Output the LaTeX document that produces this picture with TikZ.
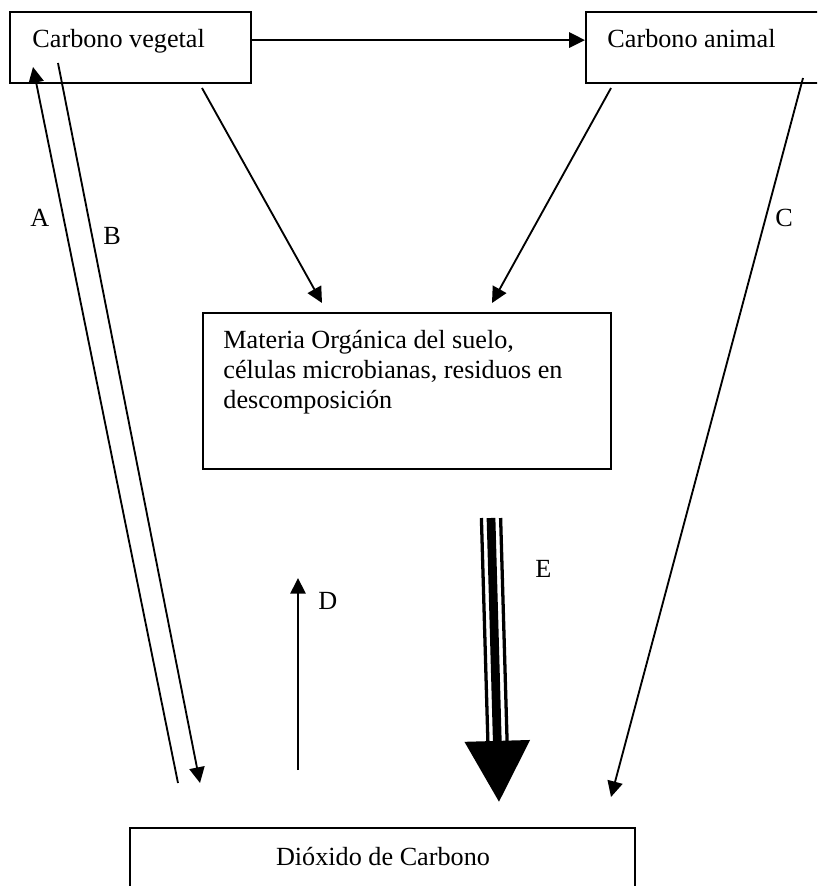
\documentclass[tikz,border=0pt]{standalone}
\usepackage{fontspec}
\setmainfont{Liberation Serif}
\usetikzlibrary{arrows.meta}

\begin{document}
\begin{tikzpicture}[
		x=0.0161cm, y=-0.0161cm,
		every node/.style={font=\fontsize{12}{13.8}\selectfont, inner sep=0pt},
		box/.style={draw, rectangle, line width=1pt},
		arrow/.style={-{Triangle[length=7.2pt,width=7pt]}, line width=0.85pt},
		lbl/.style={anchor=base west}
		]
		
		\useasboundingbox (0,0) rectangle (817,886);
		\clip (0,0) rectangle (817,886);
		
		\node[box, minimum width=3.88cm, minimum height=1.143cm] (veg) at (130.5,47.5) {};
		\node[box, minimum width=4.089cm, minimum height=1.143cm] (ani) at (713,47.5) {};
		\node[box, minimum width=6.569cm, minimum height=2.512cm] (mo) at (407,391) {};
		\node[box, minimum width=8.131cm, minimum height=1.159cm] (co2) at (382.5,864) {};
		
		\node[lbl] (vegtext) at (32,48) {Carbono vegetal};
		\node[lbl] (anitext) at (607,48) {Carbono animal};
		\node[anchor=north west, align=left] (motext) at (223,330) {Materia Orgánica del suelo,\\células microbianas, residuos en\\descomposición};
		\node[anchor=base] (co2text) at (383,865) {Dióxido de Carbono};
		
		\coordinate (vegA) at (33,67);
		\coordinate (co2A) at (178,783);
		\coordinate (vegB) at (58,63);
		\coordinate (co2B) at (200,783);
		\coordinate (vegM) at (202,88);
		\coordinate (moV) at (322,303);
		\coordinate (aniM) at (611,88);
		\coordinate (moA) at (492,303);
		\coordinate (aniC) at (803,78);
		\coordinate (co2C) at (611,797);
		\coordinate (co2D) at (298,770);
		\coordinate (moD) at (298,578);
		\coordinate (moE) at (491,518);
		\coordinate (co2E) at (497.5,742);
		\coordinate (tipE) at (499,802);
		
		\draw[arrow] ([yshift=3.4pt]veg.east) -- ([yshift=3.4pt]ani.west);
		\draw[arrow] (co2A) -- (vegA);
		\draw[arrow] (vegB) -- (co2B);
		\draw[arrow] (vegM) -- (moV);
		\draw[arrow] (aniM) -- (moA);
		\draw[arrow] (aniC) -- (co2C);
		\draw[arrow] (co2D) -- (moD);
		
		% triple line arrow E
		\draw[line width=1.5pt] ([xshift=-4.4pt]moE) -- ([xshift=-4.4pt]co2E);
		\draw[line width=1.5pt] ([xshift=4.4pt]moE) -- ([xshift=4.4pt]co2E);
		\draw[line width=4pt, -{Triangle[length=28pt,width=29pt]}] (moE) -- (tipE);
		
		\node[lbl] (la) at (30,226) {A};
		\node[lbl] (lb) at (103,244) {B};
		\node[lbl] (lc) at (775,227) {C};
		\node[lbl] (ld) at (318,609) {D};
		\node[lbl] (le) at (535,577) {E};
		
	\end{tikzpicture}
\end{document}
